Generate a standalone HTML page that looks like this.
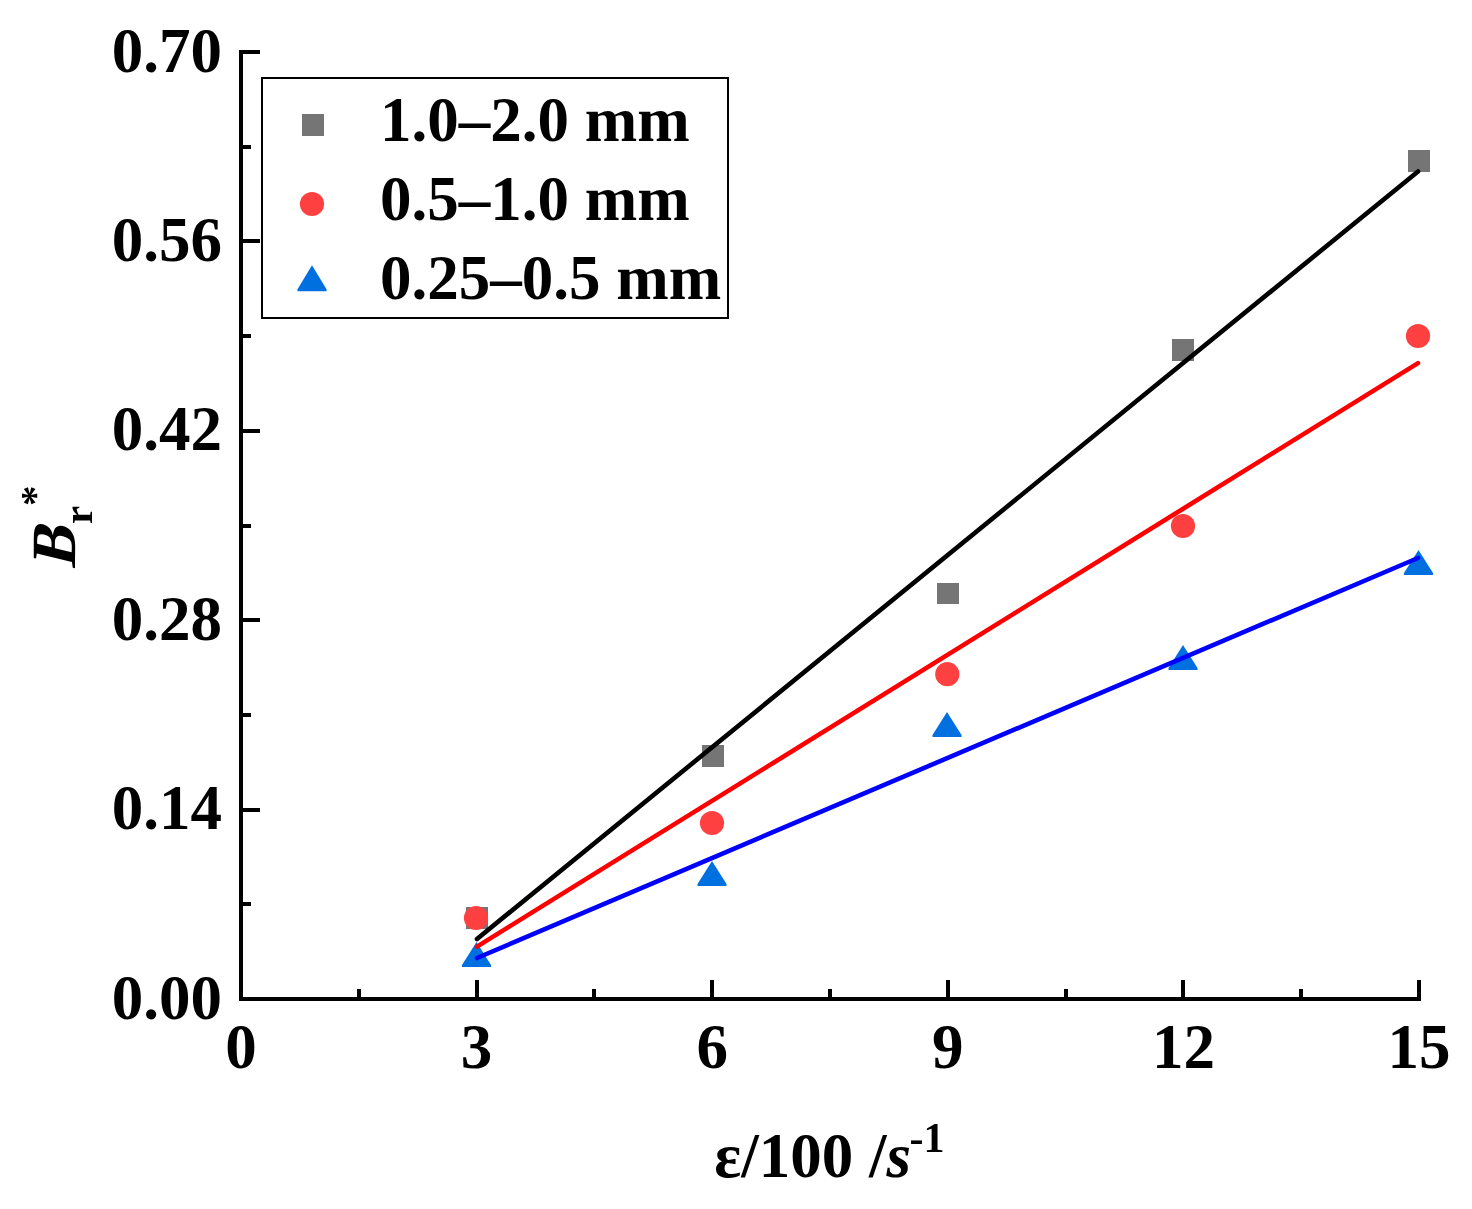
<!DOCTYPE html>
<html lang="en"><head><meta charset="utf-8"><title>Br* vs strain rate</title>
<style>html,body{margin:0;padding:0;background:#fff;overflow:hidden}svg{display:block}text{font-family:"Liberation Serif",serif;font-weight:bold;fill:#000}</style></head><body>
<svg width="1472" height="1209" viewBox="0 0 1472 1209">
<rect x="0" y="0" width="1472" height="1209" fill="#fff"/>
<g fill="#000" shape-rendering="crispEdges">
<rect x="239" y="50" width="4" height="951"/>
<rect x="239" y="997" width="1182" height="4"/>
<rect x="239" y="808" width="21" height="4"/>
<rect x="239" y="618" width="21" height="4"/>
<rect x="239" y="429" width="21" height="4"/>
<rect x="239" y="239" width="21" height="4"/>
<rect x="239" y="50" width="21" height="4"/>
<rect x="239" y="902" width="12" height="4"/>
<rect x="239" y="713" width="12" height="4"/>
<rect x="239" y="524" width="12" height="4"/>
<rect x="239" y="334" width="12" height="4"/>
<rect x="239" y="145" width="12" height="4"/>
<rect x="475" y="980" width="4" height="21"/>
<rect x="710" y="980" width="4" height="21"/>
<rect x="946" y="980" width="4" height="21"/>
<rect x="1181" y="980" width="4" height="21"/>
<rect x="1417" y="980" width="4" height="21"/>
<rect x="357" y="989" width="4" height="12"/>
<rect x="592" y="989" width="4" height="12"/>
<rect x="828" y="989" width="4" height="12"/>
<rect x="1064" y="989" width="4" height="12"/>
<rect x="1299" y="989" width="4" height="12"/>
</g>
<g font-size="63" text-anchor="end">
<text x="222" y="1018.5">0.00</text>
<text x="222" y="829.1">0.14</text>
<text x="222" y="639.7">0.28</text>
<text x="222" y="450.3">0.42</text>
<text x="222" y="260.9">0.56</text>
<text x="222" y="71.5">0.70</text>
</g>
<g font-size="63" text-anchor="middle">
<text x="241.0" y="1068">0</text>
<text x="476.6" y="1068">3</text>
<text x="712.2" y="1068">6</text>
<text x="947.8" y="1068">9</text>
<text x="1183.4" y="1068">12</text>
<text x="1419.0" y="1068">15</text>
</g>
<g>
<rect x="466" y="907" width="22" height="22" fill="#757575" shape-rendering="crispEdges"/>
<rect x="702" y="745" width="22" height="22" fill="#757575" shape-rendering="crispEdges"/>
<rect x="937" y="583" width="22" height="21" fill="#757575" shape-rendering="crispEdges"/>
<rect x="1172" y="339" width="22" height="22" fill="#757575" shape-rendering="crispEdges"/>
<rect x="1408" y="150" width="22" height="22" fill="#757575" shape-rendering="crispEdges"/>
<circle cx="476.0" cy="918.0" r="12.1" fill="#ff4040"/>
<circle cx="712.0" cy="823.0" r="12.1" fill="#ff4040"/>
<circle cx="947.3" cy="674.2" r="12.1" fill="#ff4040"/>
<circle cx="1183.0" cy="526.0" r="12.1" fill="#ff4040"/>
<circle cx="1418.0" cy="336.0" r="12.1" fill="#ff4040"/>
<path d="M476.5 942.0 L491.0 965.0 V967.0 H462.0 V965.0 Z" fill="#0070e0"/>
<path d="M712.0 861.0 L726.5 884.0 V886.0 H697.5 V884.0 Z" fill="#0070e0"/>
<path d="M947.0 712.0 L961.5 735.0 V737.0 H932.5 V735.0 Z" fill="#0070e0"/>
<path d="M1183.0 645.0 L1197.5 668.0 V670.0 H1168.5 V668.0 Z" fill="#0070e0"/>
<path d="M1418.5 550.0 L1433.0 573.0 V575.0 H1404.0 V573.0 Z" fill="#0070e0"/>
</g>
<g stroke-width="4.6" stroke-linecap="round" fill="none">
<line x1="477" y1="939" x2="1418" y2="171.5" stroke="#000"/>
<line x1="477" y1="946.6" x2="1418" y2="363.1" stroke="#f00"/>
<line x1="477" y1="958" x2="1418" y2="558" stroke="#00f"/>
</g>
<rect x="262" y="78" width="466" height="240" fill="#fff" stroke="#000" stroke-width="2" shape-rendering="crispEdges"/>
<rect x="302" y="114" width="22" height="22" fill="#757575" shape-rendering="crispEdges"/>
<circle cx="312.0" cy="204.0" r="12.1" fill="#ff4040"/>
<path d="M312.0 265.2 L326.5 289.2 V291.2 H297.5 V289.2 Z" fill="#0070e0"/>
<g font-size="63">
<text x="380" y="141">1.0–2.0 mm</text>
<text x="380" y="220">0.5–1.0 mm</text>
<text x="380" y="298.5">0.25–0.5 mm</text>
</g>
<text x="714.3" y="1177.3" font-size="63">ε/100 /<tspan font-style="italic">s</tspan><tspan font-size="42" dx="-1.5" dy="-25.3">-1</tspan></text>
<g transform="translate(75 569) rotate(-90)">
<text x="0" y="0" font-size="63" transform="translate(-0.3 0) skewX(-14)">B</text>
<text x="45" y="17" font-size="41">r</text>
<text x="63" y="-27" font-size="41">*</text>
</g>
</svg></body></html>
